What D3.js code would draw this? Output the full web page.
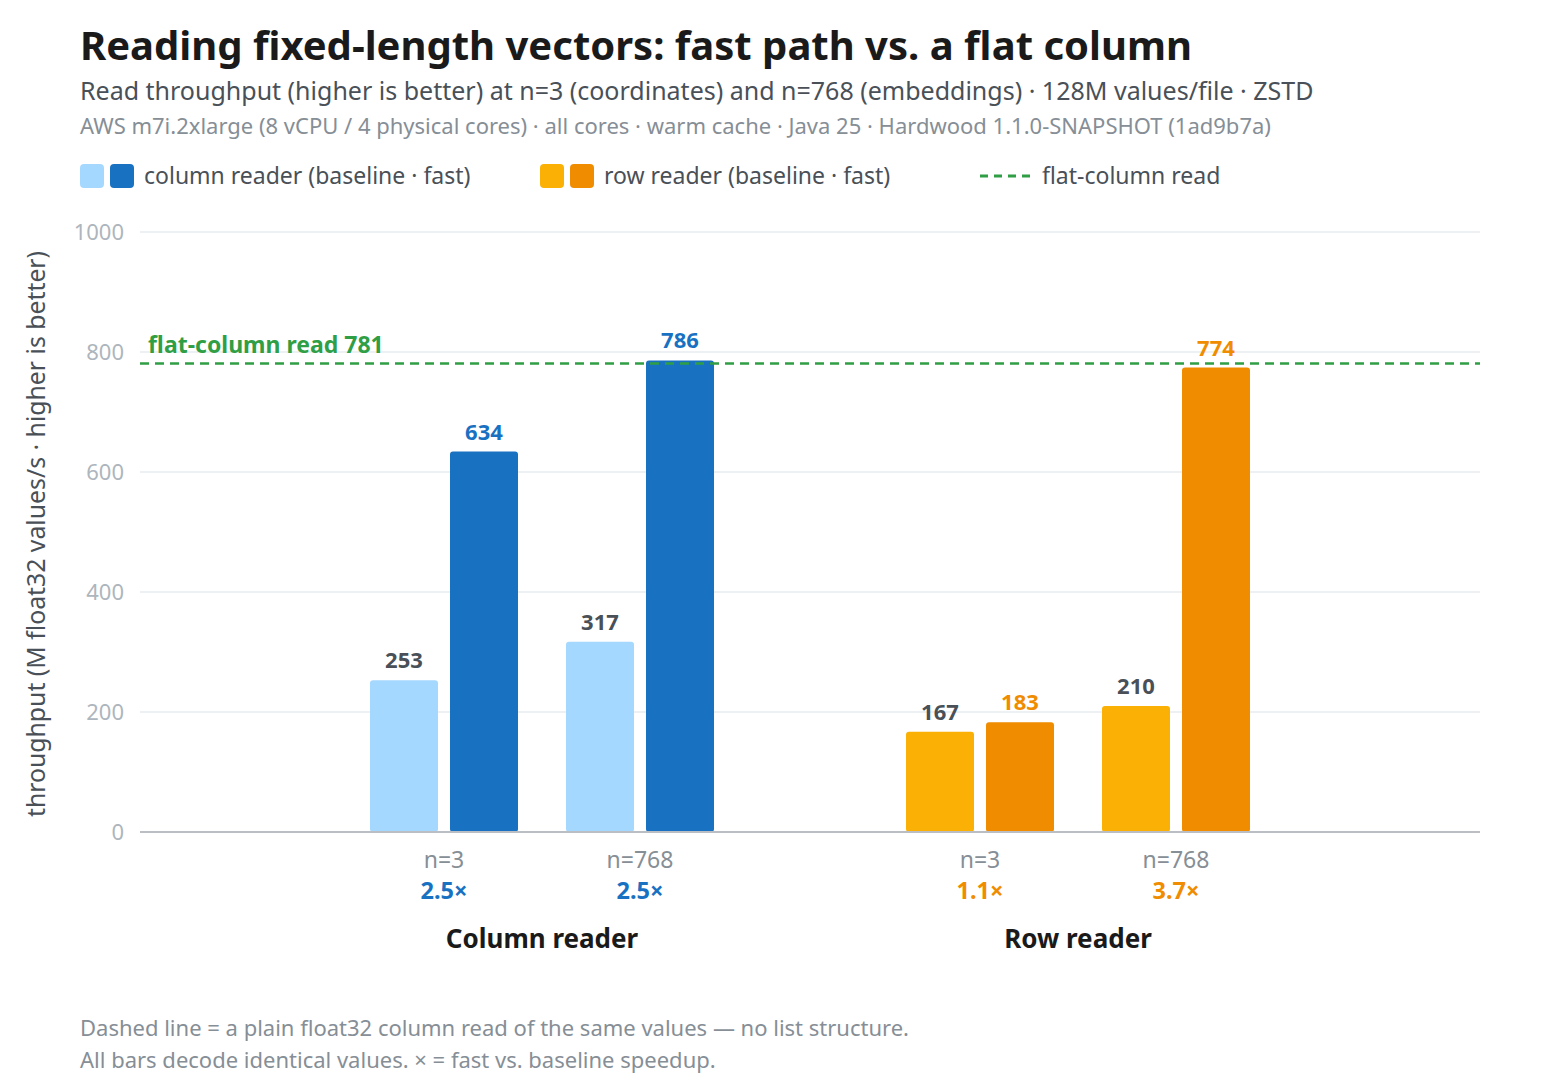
<!DOCTYPE html>
<html>
<head>
<meta charset="utf-8">
<script src="https://cdn.jsdelivr.net/npm/d3@7"></script>
<style>
  html, body { margin: 0; padding: 0; background: #ffffff; }
  svg { display: block; font-family: "Noto Sans", "Open Sans", sans-serif; }
</style>
</head>
<body>
<svg id="chart" width="1560" height="1092"></svg>
<script>
// ---- data ----
const groups = ["Column reader", "Row reader"];
const sizes = ["n=3", "n=768"];
const variants = ["baseline", "fast"];
const columnBaseline = [253, 317];
const columnFast = [634, 786];
const rowBaseline = [167, 210];
const rowFast = [183, 774];
const flatColumnRead = 781;
const yTicks = [0, 200, 400, 600, 800, 1000];

const titleText = "Reading fixed-length vectors: fast path vs. a flat column";
const subtitleText = "Read throughput (higher is better) at n=3 (coordinates) and n=768 (embeddings) · 128M values/file · ZSTD";
const metaText = "AWS m7i.2xlarge (8 vCPU / 4 physical cores) · all cores · warm cache · Java 25 · Hardwood 1.1.0-SNAPSHOT (1ad9b7a)";
const legendLabels = ["column reader (baseline · fast)", "row reader (baseline · fast)", "flat-column read"];
const yLabel = "throughput (M float32 values/s · higher is better)";
const footnotes = [
  "Dashed line = a plain float32 column read of the same values — no list structure.",
  "All bars decode identical values. × = fast vs. baseline speedup."
];

const palette = {
  "Column reader": { baseline: "#a5d8ff", fast: "#1971c2", accent: "#1971c2" },
  "Row reader": { baseline: "#fab005", fast: "#f08c00", accent: "#f08c00" }
};
const green = "#2f9e44";

const seriesByGroup = {
  "Column reader": { baseline: columnBaseline, fast: columnFast },
  "Row reader": { baseline: rowBaseline, fast: rowFast }
};

const svg = d3.select("#chart");
const plotL = 140, plotR = 1480, plotT = 232, plotB = 832;

const y = d3.scaleLinear().domain([0, 1000]).range([plotB, plotT]);
const xGroup = d3.scaleBand().domain(groups).range([plotL, plotR]).paddingInner(0.2).paddingOuter(0.35);
const xSize = d3.scaleBand().domain(sizes).range([0, xGroup.bandwidth()]).paddingInner(48 / 196).paddingOuter(0.2163);
const xVar = d3.scaleBand().domain(variants).range([0, xSize.bandwidth()]).paddingInner(0.15).paddingOuter(0);

// ---- titles ----
svg.append("text").attr("x", 80).attr("y", 60).attr("font-size", 40).attr("font-weight", 700)
  .attr("fill", "#1a1a1a").text(titleText);
svg.append("text").attr("x", 80).attr("y", 100).attr("font-size", 25).attr("fill", "#495057").text(subtitleText);
svg.append("text").attr("x", 80).attr("y", 134).attr("font-size", 22).attr("fill", "#868e96").text(metaText);

// ---- legend ----
const lg = svg.append("g");
function swatchPair(x0, c1, c2, label) {
  lg.append("rect").attr("x", x0).attr("y", 164).attr("width", 24).attr("height", 24).attr("rx", 4).attr("fill", c1);
  lg.append("rect").attr("x", x0 + 30).attr("y", 164).attr("width", 24).attr("height", 24).attr("rx", 4).attr("fill", c2);
  lg.append("text").attr("x", x0 + 64).attr("y", 184).attr("font-size", 23).attr("fill", "#495057").text(label);
}
swatchPair(80, palette["Column reader"].baseline, palette["Column reader"].fast, legendLabels[0]);
swatchPair(540, palette["Row reader"].baseline, palette["Row reader"].fast, legendLabels[1]);
lg.append("line").attr("x1", 980).attr("x2", 1032).attr("y1", 176).attr("y2", 176)
  .attr("stroke", green).attr("stroke-width", 3).attr("stroke-dasharray", "8,6");
lg.append("text").attr("x", 1042).attr("y", 184).attr("font-size", 23).attr("fill", "#495057").text(legendLabels[2]);

// ---- grid + y axis ----
const yAxis = d3.axisLeft(y).tickValues(yTicks).tickSize(0).tickPadding(16).tickFormat(d3.format("d"));
const yg = svg.append("g").attr("transform", `translate(${plotL},0)`).call(yAxis);
yg.select(".domain").remove();
yg.selectAll("text").attr("font-size", 22).attr("fill", "#adb5bd").attr("font-family", "Noto Sans");

svg.append("g").selectAll("line").data(yTicks.filter(d => d > 0)).join("line")
  .attr("x1", plotL).attr("x2", plotR).attr("y1", d => y(d)).attr("y2", d => y(d))
  .attr("stroke", "#e9ecef").attr("stroke-width", 1.5);

svg.append("text")
  .attr("transform", `translate(45,${(plotT + plotB) / 2 + 2}) rotate(-90)`)
  .attr("text-anchor", "middle").attr("font-size", 24.8).attr("fill", "#495057").text(yLabel);

// ---- bars ----
const barData = [];
groups.forEach(g => sizes.forEach((s, i) => variants.forEach(v => {
  barData.push({ group: g, size: s, variant: v, value: seriesByGroup[g][v][i] });
})));

const barsG = svg.append("g");
barsG.selectAll("rect").data(barData).join("rect")
  .attr("x", d => xGroup(d.group) + xSize(d.size) + xVar(d.variant))
  .attr("y", d => y(d.value))
  .attr("width", xVar.bandwidth())
  .attr("height", d => y(0) - y(d.value))
  .attr("rx", 3)
  .attr("fill", d => palette[d.group][d.variant]);

barsG.selectAll("text").data(barData).join("text")
  .attr("x", d => xGroup(d.group) + xSize(d.size) + xVar(d.variant) + xVar.bandwidth() / 2)
  .attr("y", d => y(d.value) - 12)
  .attr("text-anchor", "middle").attr("font-size", 22).attr("font-weight", 700)
  .attr("fill", d => d.variant === "fast" ? palette[d.group].accent : "#495057")
  .text(d => d.value);

// baseline axis
svg.append("line").attr("x1", plotL).attr("x2", plotR).attr("y1", y(0)).attr("y2", y(0))
  .attr("stroke", "#bbbfc3").attr("stroke-width", 2);

// ---- flat-column reference ----
svg.append("line").attr("x1", plotL).attr("x2", plotR)
  .attr("y1", y(flatColumnRead)).attr("y2", y(flatColumnRead))
  .attr("stroke", green).attr("stroke-width", 2.5).attr("stroke-dasharray", "9,6");
svg.append("text").attr("x", plotL + 8).attr("y", y(flatColumnRead) - 10)
  .attr("font-size", 23).attr("font-weight", 700).attr("fill", green)
  .text("flat-column read " + flatColumnRead);

// ---- x labels ----
const speedFmt = d3.format(".1f");
const xl = svg.append("g");
groups.forEach(g => {
  sizes.forEach((s, i) => {
    const cx = xGroup(g) + xSize(s) + xSize.bandwidth() / 2;
    xl.append("text").attr("x", cx).attr("y", 868).attr("text-anchor", "middle")
      .attr("font-size", 23).attr("fill", "#868e96").text(s);
    const sp = seriesByGroup[g].fast[i] / seriesByGroup[g].baseline[i];
    xl.append("text").attr("x", cx).attr("y", 899).attr("text-anchor", "middle")
      .attr("font-size", 23.5).attr("font-weight", 700).attr("fill", palette[g].accent)
      .text(speedFmt(sp) + "×");
  });
  xl.append("text").attr("x", xGroup(g) + xGroup.bandwidth() / 2).attr("y", 948)
    .attr("text-anchor", "middle").attr("font-size", 26).attr("font-weight", 700)
    .attr("fill", "#1a1a1a").text(g);
});

// ---- footnotes ----
footnotes.forEach((t, i) => {
  svg.append("text").attr("x", 80).attr("y", 1036 + i * 32).attr("font-size", 22)
    .attr("fill", "#868e96").text(t);
});
</script>
</body>
</html>
